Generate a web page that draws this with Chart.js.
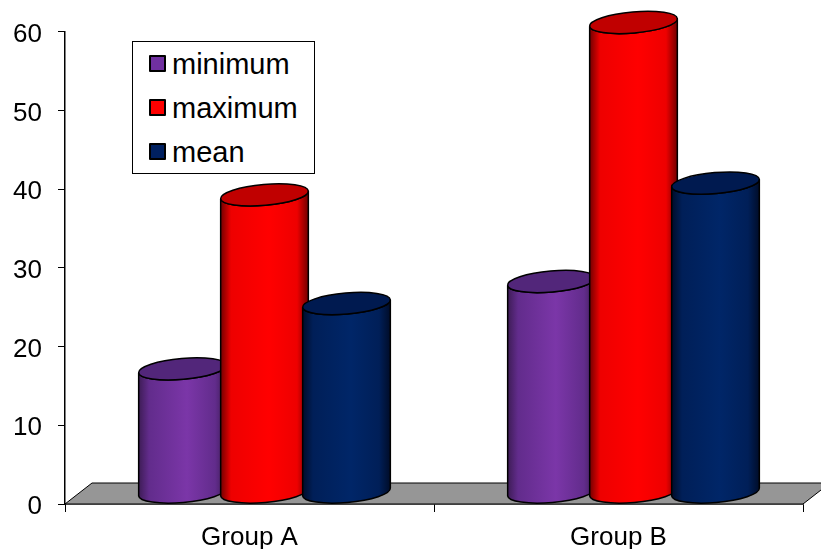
<!DOCTYPE html>
<html>
<head>
<meta charset="utf-8">
<title>Group A and Group B</title>
<script src="https://cdn.jsdelivr.net/npm/chart.js@4"></script>
<style>
  html, body { margin: 0; padding: 0; background: #fff; overflow: hidden; }
  #wrap { position: relative; width: 821px; height: 549px; }
  #chart { display: block; }
  #legend {
    position: absolute; left: 132px; top: 41px; width: 181px; height: 131px;
    border: 1px solid #000; background: #fff;
    font-family: "Liberation Sans", Arial, sans-serif; font-size: 29px; color: #000;
  }
  .row { position: absolute; left: 16px; height: 32px; line-height: 32px; white-space: nowrap; }
  .swatch {
    position: absolute; left: 0; top: 6px; width: 13px; height: 13px;
    border: 2px solid #000; border-radius: 1px;
  }
  .row span.name { position: absolute; left: 23px; top: -1px; }
</style>
</head>
<body>
<div id="wrap">
  <canvas id="chart" width="821" height="549"></canvas>
  <div id="legend"></div>
</div>
<script>
// values
const categories = ['Group A', 'Group B'];
const seriesNames = ['minimum', 'maximum', 'mean'];
const minimum = [15.7, 26.8];
const maximum = [37.8, 59.7];
const mean = [24, 39.3];
const yTicks = [0, 10, 20, 30, 40, 50, 60];

// colours for each cylinder
const swatchColors = ['#7030a0', '#ff0000', '#002060'];
const brightColors = ['#7b36a8', '#ff0000', '#002668'];
const midColors = ['#622c8c', '#ee0000', '#001f58'];
const edgeColors = ['#3d1c55', '#700000', '#000c28'];
const lidColors = ['#52267a', '#c00000', '#001a50'];

const FONT = '"Liberation Sans", Arial, sans-serif';
const FLOOR_DX = 27, FLOOR_DY = 21;
const SHIFT_X = 15;        // bars sit in the middle of the floor depth
const BASE_LIFT = 11.5;    // same, vertically
const OVERLAP = 6;
const TILT = -5 * Math.PI / 180;
const RY = 10.5;

function drawCylinder(ctx, el, i) {
  const cx = el.x + SHIFT_X;
  const rx = (el.width + OVERLAP) / 2;
  const topY = el.y - BASE_LIFT;
  const baseY = el.base - BASE_LIFT;
  const dx = rx * Math.cos(TILT), dy = rx * Math.sin(TILT);

  const grad = ctx.createLinearGradient(cx - rx, 0, cx + rx, 0);
  grad.addColorStop(0, edgeColors[i]);
  grad.addColorStop(0.12, midColors[i]);
  grad.addColorStop(0.55, brightColors[i]);
  grad.addColorStop(0.87, midColors[i]);
  grad.addColorStop(1, edgeColors[i]);

  // body: left side down, round the bottom, right side up, back under the lid
  ctx.beginPath();
  ctx.moveTo(cx - dx, topY - dy);
  ctx.lineTo(cx - dx, baseY - dy);
  ctx.ellipse(cx, baseY, rx, RY, TILT, Math.PI, 0, true);
  ctx.lineTo(cx + dx, topY + dy);
  ctx.ellipse(cx, topY, rx, RY, TILT, 0, Math.PI, false);
  ctx.closePath();
  ctx.fillStyle = grad;
  ctx.fill();
  ctx.lineWidth = 1.5;
  ctx.strokeStyle = '#000';
  ctx.stroke();

  ctx.beginPath();
  ctx.ellipse(cx, topY, rx, RY, TILT, 0, Math.PI * 2);
  ctx.fillStyle = lidColors[i];
  ctx.fill();
  ctx.stroke();
}

const cylinders = {
  id: 'cylinders',
  beforeDatasetsDraw(chart) {
    const { ctx, chartArea: a } = chart;
    ctx.save();
    ctx.beginPath();
    ctx.moveTo(a.left, a.bottom);
    ctx.lineTo(a.left + FLOOR_DX, a.bottom - FLOOR_DY);
    ctx.lineTo(a.right + FLOOR_DX, a.bottom - FLOOR_DY);
    ctx.lineTo(a.right, a.bottom);
    ctx.closePath();
    ctx.fillStyle = '#969696';
    ctx.fill();
    ctx.lineWidth = 1;
    ctx.strokeStyle = '#000';
    ctx.stroke();
    ctx.restore();
  },
  afterDatasetsDraw(chart) {
    const ctx = chart.ctx;
    ctx.save();
    chart.data.datasets.forEach((ds, i) => {
      chart.getDatasetMeta(i).data.forEach(el => drawCylinder(ctx, el, i));
    });
    ctx.restore();
  }
};

new Chart(document.getElementById('chart'), {
  type: 'bar',
  plugins: [cylinders],
  data: {
    labels: categories,
    datasets: [
      { label: seriesNames[0], data: minimum, backgroundColor: 'transparent' },
      { label: seriesNames[1], data: maximum, backgroundColor: 'transparent' },
      { label: seriesNames[2], data: mean, backgroundColor: 'transparent' }
    ]
  },
  options: {
    responsive: false,
    animation: false,
    categoryPercentage: 2 / 3,
    barPercentage: 1,
    layout: { padding: { top: 31, right: 18, left: 0, bottom: 0 } },
    plugins: { legend: { display: false }, tooltip: { enabled: false } },
    scales: {
      x: {
        afterFit(scale) { scale.height = 45; },
        border: { color: '#000', width: 1.5 },
        grid: { drawOnChartArea: false, color: '#000', tickColor: '#000', tickLength: 8 },
        ticks: { color: '#000', padding: 10, font: { family: FONT, size: 26 }, maxRotation: 0 }
      },
      y: {
        min: 0,
        max: 60,
        afterFit(scale) { scale.width = 65; },
        afterBuildTicks(scale) { scale.ticks = yTicks.map(v => ({ value: v })); },
        border: { color: '#000', width: 1.5 },
        grid: { drawOnChartArea: false, color: '#000', tickColor: '#000', tickLength: 7 },
        ticks: { color: '#000', padding: 16, labelOffset: 3, font: { family: FONT, size: 26 } }
      }
    }
  }
});

// legend box
const legend = document.getElementById('legend');
seriesNames.forEach((name, i) => {
  const row = document.createElement('div');
  row.className = 'row';
  row.style.top = (7 + i * 44) + 'px';
  row.innerHTML = '<span class="swatch" style="background:' + swatchColors[i] + '"></span><span class="name">' + name + '</span>';
  legend.appendChild(row);
});
</script>
</body>
</html>
